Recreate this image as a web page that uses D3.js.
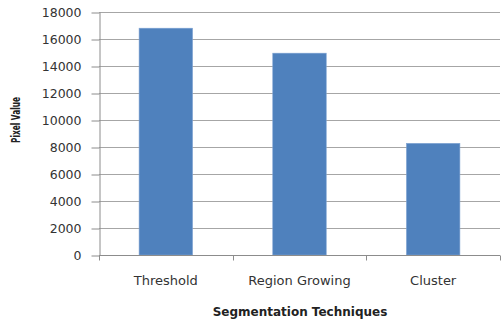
<!DOCTYPE html>
<html>
<head>
<meta charset="utf-8">
<script src="https://cdn.jsdelivr.net/npm/d3@7"></script>
<style>
  html, body { margin: 0; padding: 0; background: #fff; }
  svg { display: block; }
</style>
</head>
<body>
<svg id="chart" width="501" height="322"></svg>
<script>
// Pixel values per segmentation technique
const categories = ["Threshold", "Region Growing", "Cluster"];
const pixelValues = [16800, 14950, 8270];
const yTicks = [0, 2000, 4000, 6000, 8000, 10000, 12000, 14000, 16000, 18000];

const svg = d3.select("#chart");
const margin = { left: 99, right: 1, top: 12, bottom: 67 };
const W = 501, H = 322;

const x = d3.scaleBand()
  .domain(categories)
  .range([margin.left, W - margin.right])
  .paddingInner(0.6)
  .paddingOuter(0.3);

const y = d3.scaleLinear()
  .domain([0, 18000])
  .range([H - margin.bottom, margin.top]);

const gridColor = "#a6a6a6";
const axisColor = "#8c8c8c";
const textColor = "#333";

// horizontal gridlines
svg.append("g")
  .selectAll("line")
  .data(yTicks.filter(d => d > 0))
  .join("line")
  .attr("x1", margin.left)
  .attr("x2", W - margin.right)
  .attr("y1", d => Math.round(y(d)) + 0.5)
  .attr("y2", d => Math.round(y(d)) + 0.5)
  .attr("stroke", gridColor)
  .attr("stroke-width", 1);

// bars
svg.append("g")
  .selectAll("rect")
  .data(categories)
  .join("rect")
  .attr("x", d => x(d))
  .attr("width", x.bandwidth())
  .attr("y", (d, i) => y(pixelValues[i]))
  .attr("height", (d, i) => y(0) - y(pixelValues[i]))
  .attr("fill", "#4f81bd")
  .attr("stroke", "#7fa3d3")
  .attr("stroke-width", 0.6);

// y axis
const yAxis = svg.append("g")
  .attr("transform", `translate(${margin.left + 0.5},0)`)
  .call(d3.axisLeft(y).tickValues(yTicks).tickFormat(d3.format("d"))
    .tickSize(8).tickPadding(10).tickSizeOuter(0));
yAxis.select(".domain").attr("stroke", axisColor);
yAxis.selectAll(".tick line").attr("stroke", axisColor)
  .attr("transform", "translate(0,0.5)");
yAxis.selectAll(".tick text")
  .attr("fill", textColor)
  .attr("font-family", "DejaVu Sans, sans-serif")
  .attr("font-size", 12.5);

// x axis with ticks on category boundaries
const xBase = Math.round(y(0)) + 0.5;
const xAxisG = svg.append("g");
xAxisG.append("line")
  .attr("x1", margin.left).attr("x2", W - margin.right)
  .attr("y1", xBase).attr("y2", xBase)
  .attr("stroke", axisColor);
const step = x.step();
const edges = [margin.left].concat(categories.map(c => x(c) + x.bandwidth() + (step - x.bandwidth()) / 2));
xAxisG.selectAll("line.tick")
  .data(edges)
  .join("line")
  .attr("class", "tick")
  .attr("x1", d => Math.round(d) + 0.5).attr("x2", d => Math.round(d) + 0.5)
  .attr("y1", xBase).attr("y2", xBase + 5)
  .attr("stroke", axisColor);

xAxisG.selectAll("text")
  .data(categories)
  .join("text")
  .attr("x", d => x(d) + x.bandwidth() / 2)
  .attr("y", 285)
  .attr("text-anchor", "middle")
  .attr("fill", textColor)
  .attr("font-family", "DejaVu Sans, sans-serif")
  .attr("font-size", 13)
  .text(d => d);

// axis titles
svg.append("text")
  .attr("x", 300)
  .attr("y", 316)
  .attr("text-anchor", "middle")
  .attr("fill", "#222")
  .attr("font-family", "DejaVu Sans, sans-serif")
  .attr("font-weight", "bold")
  .attr("font-size", 12)
  .text("Segmentation Techniques");

svg.append("text")
  .attr("transform", "translate(20,120) rotate(-90)")
  .attr("text-anchor", "middle")
  .attr("fill", "#222")
  .attr("font-family", "DejaVu Sans, sans-serif")
  .attr("font-weight", "bold")
  .attr("font-size", 13)
  .attr("textLength", 46)
  .attr("lengthAdjust", "spacingAndGlyphs")
  .text("Pixel Value");
</script>
</body>
</html>
